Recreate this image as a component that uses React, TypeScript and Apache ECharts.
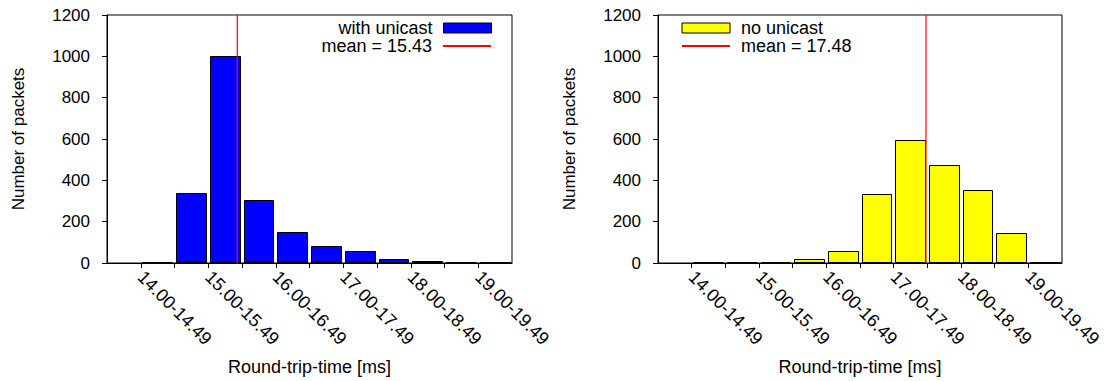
import React, { useEffect, useRef } from "react";
import * as echarts from "echarts";

// Histogram bins: each bin starts at the given value and is 0.5 ms wide
const binStarts = [14.0, 14.5, 15.0, 15.5, 16.0, 16.5, 17.0, 17.5, 18.0, 18.5, 19.0];
const binWidth = 0.5;

// Packet counts per bin
const withUnicast = [5, 340, 1000, 307, 149, 83, 58, 19, 10, 2, 0];
const noUnicast = [0, 0, 0, 19, 56, 335, 594, 474, 355, 144, 4];

// Mean round-trip times [ms]
const meanWithUnicast = 15.43;
const meanNoUnicast = 17.48;

// Labelled x positions and their texts
const labelValues = [14, 15, 16, 17, 18, 19];
const tickLabels = ["14.00-14.49", "15.00-15.49", "16.00-16.49", "17.00-17.49", "18.00-18.49", "19.00-19.49"];

const yTicks = { min: 0, max: 1200, interval: 200 };

const FONT = "'Liberation Sans', Arial, Helvetica, sans-serif";

function labelFor(v: number): string {
  const i = labelValues.findIndex((x) => Math.abs(x - v) < 1e-6);
  return i >= 0 ? tickLabels[i] : "";
}

function histRenderItem(params: any, api: any) {
  const start = api.value(0);
  const v = api.value(1);
  const p0 = api.coord([start, v]);
  const p1 = api.coord([start + binWidth, 0]);
  const x0 = Math.round(p0[0] + 1.5) + 0.5;
  const x1 = Math.round(p1[0] - 1.5) - 0.5;
  const y0 = Math.round(p0[1]) + 0.5;
  const y1 = Math.round(p1[1]) - 0.5;
  return {
    type: "rect",
    shape: { x: x0, y: Math.min(y0, y1), width: x1 - x0, height: Math.abs(y1 - y0) },
    style: { fill: api.visual("color"), stroke: "#000", lineWidth: 1 },
  };
}

function xAxisFor(gridIndex: number) {
  return {
    type: "value",
    gridIndex,
    min: 13.5,
    max: 19.5,
    interval: 0.5,
    name: "Round-trip-time [ms]",
    nameLocation: "middle",
    nameGap: 95,
    nameTextStyle: { fontFamily: FONT, fontSize: 18, color: "#000" },
    axisLine: { show: true, lineStyle: { color: "#000", width: 1 } },
    axisTick: { show: true, inside: false, length: 5, customValues: binStarts, lineStyle: { color: "#000" } },
    axisLabel: {
      show: true,
      customValues: labelValues,
      rotate: -45,
      margin: 11,
      fontFamily: FONT,
      fontSize: 18,
      color: "#000",
      formatter: (v: number) => labelFor(v),
    },
    splitLine: { show: false },
  };
}

function yAxisFor(gridIndex: number) {
  return {
    type: "value",
    gridIndex,
    min: yTicks.min,
    max: yTicks.max,
    interval: yTicks.interval,
    name: "Number of packets",
    nameLocation: "middle",
    nameGap: 80,
    nameTextStyle: { fontFamily: FONT, fontSize: 17, color: "#000" },
    axisLine: { show: true, lineStyle: { color: "#000", width: 1 } },
    axisTick: { show: true, inside: false, length: 5, lineStyle: { color: "#000" } },
    axisLabel: {
      show: true,
      margin: 17,
      fontFamily: FONT,
      fontSize: 17,
      color: "#000",
      formatter: (v: number) => String(v),
    },
    splitLine: { show: false },
  };
}

function meanLine(mean: number, axisIndex: number) {
  return {
    type: "line",
    name: `mean = ${mean.toFixed(2)}`,
    xAxisIndex: axisIndex,
    yAxisIndex: axisIndex,
    data: [
      [mean, yTicks.min],
      [mean, yTicks.max],
    ],
    symbol: "none",
    color: "#ff0000",
    lineStyle: { color: "#ff0000", width: 1.2 },
    z: 5,
  };
}

export default function App() {
  const ref = useRef<HTMLDivElement>(null);

  useEffect(() => {
    if (!ref.current) return;
    const chart = echarts.init(ref.current, null, { renderer: "svg" });

    const legendText = { fontFamily: FONT, fontSize: 18, color: "#000", padding: [0, 6, 0, 6] };
    const barKey = { borderColor: "#000", borderWidth: 1 };
    const lineKey = { opacity: 0 };

    chart.setOption({
      animation: false,
      backgroundColor: "#fff",
      grid: [
        { left: 107, top: 15, width: 405, height: 249, show: true, borderColor: "#000", borderWidth: 1, backgroundColor: "transparent" },
        { left: 658, top: 15, width: 404, height: 249, show: true, borderColor: "#000", borderWidth: 1, backgroundColor: "transparent" },
      ],
      xAxis: [xAxisFor(0), xAxisFor(1)],
      yAxis: [yAxisFor(0), yAxisFor(1)],
      legend: [
        {
          data: [{ name: "with unicast", icon: "rect", itemStyle: barKey }],
          right: 616,
          top: 19,
          align: "right",
          padding: 0,
          itemWidth: 48,
          itemHeight: 10,
          textStyle: legendText,
          selectedMode: false,
        },
        {
          data: [{ name: `mean = ${meanWithUnicast.toFixed(2)}`, itemStyle: lineKey }],
          right: 616,
          top: 37,
          align: "right",
          padding: 0,
          itemWidth: 48,
          itemHeight: 10,
          textStyle: legendText,
          selectedMode: false,
        },
        {
          data: [
            { name: "no unicast", icon: "rect", itemStyle: barKey },
            { name: `mean = ${meanNoUnicast.toFixed(2)}`, itemStyle: lineKey },
          ],
          left: 681,
          top: 19,
          orient: "vertical",
          align: "left",
          padding: 0,
          itemGap: 0,
          itemWidth: 48,
          itemHeight: 10,
          textStyle: legendText,
          selectedMode: false,
        },
      ],
      series: [
        {
          type: "custom",
          name: "with unicast",
          xAxisIndex: 0,
          yAxisIndex: 0,
          color: "#0000ff",
          itemStyle: { color: "#0000ff", borderColor: "#000", borderWidth: 1 },
          renderItem: histRenderItem,
          encode: { x: 0, y: 1 },
          data: binStarts.map((s, i) => [s, withUnicast[i]]),
        },
        meanLine(meanWithUnicast, 0),
        {
          type: "custom",
          name: "no unicast",
          xAxisIndex: 1,
          yAxisIndex: 1,
          color: "#ffff00",
          itemStyle: { color: "#ffff00", borderColor: "#000", borderWidth: 1 },
          renderItem: histRenderItem,
          encode: { x: 0, y: 1 },
          data: binStarts.map((s, i) => [s, noUnicast[i]]),
        },
        meanLine(meanNoUnicast, 1),
      ],
    });

    return () => chart.dispose();
  }, []);

  return (
    <div
      ref={ref}
      style={{ position: "fixed", left: 0, top: 0, width: 1108, height: 381, background: "#fff" }}
    />
  );
}
